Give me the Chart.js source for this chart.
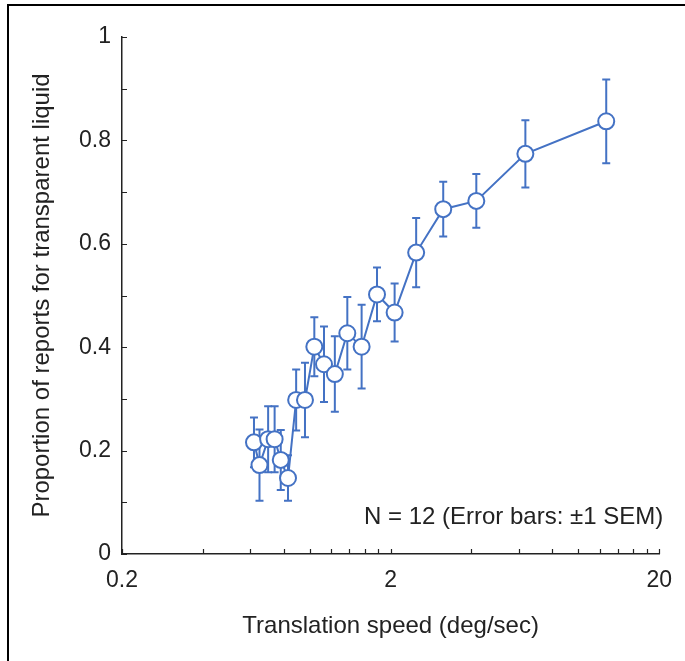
<!DOCTYPE html>
<html>
<head>
<meta charset="utf-8">
<script src="https://cdn.jsdelivr.net/npm/chart.js@4.4.1/dist/chart.umd.min.js"></script>
<style>
  html, body { margin: 0; padding: 0; background: #fff; }
  #wrap { position: relative; width: 685px; height: 661px; }
  #frame { position: absolute; left: 7px; top: 4px; right: 0; bottom: 0;
           border-left: 2px solid #000; border-top: 2px solid #000; pointer-events: none; }
</style>
</head>
<body>
<div id="wrap">
  <canvas id="chart"></canvas>
  <div id="frame"></div>
</div>
<script>
// data
const speeds = [0.62, 0.65, 0.70, 0.74, 0.78, 0.83, 0.89, 0.96, 1.04, 1.13, 1.24, 1.38, 1.56, 1.78, 2.07, 2.49, 3.14, 4.17, 6.35, 12.7];
const proportions = [0.216, 0.172, 0.222, 0.222, 0.182, 0.147, 0.298, 0.298, 0.401, 0.367, 0.348, 0.427, 0.401, 0.502, 0.467, 0.583, 0.667, 0.683, 0.774, 0.837];
const sem = [0.048, 0.069, 0.064, 0.064, 0.058, 0.044, 0.059, 0.072, 0.057, 0.073, 0.073, 0.070, 0.081, 0.052, 0.056, 0.067, 0.053, 0.052, 0.065, 0.081];

const xTicks = [0.2, 0.4, 0.6, 0.8, 1, 1.2, 1.4, 1.6, 1.8, 2, 4, 6, 8, 10, 12, 14, 16, 18, 20];
const xLabels = [0.2, 2, 20];
const yLabels = [0, 0.2, 0.4, 0.6, 0.8, 1];

const blue = '#4472c4';
const fontFamily = '"Liberation Sans", Arial, sans-serif';
const textColor = '#222';

const errorBars = {
  id: 'errorBars',
  beforeDatasetsDraw(chart) {
    const { ctx, scales: { x, y } } = chart;
    ctx.save();
    ctx.strokeStyle = blue;
    ctx.lineWidth = 2;
    speeds.forEach((s, i) => {
      const px = x.getPixelForValue(s);
      const top = y.getPixelForValue(proportions[i] + sem[i]);
      const bot = y.getPixelForValue(proportions[i] - sem[i]);
      ctx.beginPath();
      ctx.moveTo(px, top); ctx.lineTo(px, bot);
      ctx.moveTo(px - 4, top); ctx.lineTo(px + 4, top);
      ctx.moveTo(px - 4, bot); ctx.lineTo(px + 4, bot);
      ctx.stroke();
    });
    ctx.restore();
  }
};

// ticks point into the plot, like the original
const innerTicks = {
  id: 'innerTicks',
  afterDraw(chart) {
    const { ctx, chartArea, scales: { x, y } } = chart;
    ctx.save();
    ctx.strokeStyle = '#222';
    ctx.lineWidth = 1.2;
    ctx.beginPath();
    xTicks.forEach(v => {
      const px = Math.round(x.getPixelForValue(v)) + 0.5;
      ctx.moveTo(px, chartArea.bottom);
      ctx.lineTo(px, chartArea.bottom - 5);
    });
    y.ticks.forEach(t => {
      const py = Math.round(y.getPixelForValue(t.value)) + 0.5;
      ctx.moveTo(chartArea.left, py);
      ctx.lineTo(chartArea.left + 5, py);
    });
    ctx.stroke();

    ctx.fillStyle = textColor;
    ctx.font = '24px ' + fontFamily;
    ctx.textAlign = 'right';
    ctx.textBaseline = 'middle';
    ctx.fillText('N = 12 (Error bars: \u00b11 SEM)', chartArea.right + 4, y.getPixelForValue(0.07));
    ctx.restore();
  }
};

new Chart(document.getElementById('chart'), {
  type: 'scatter',
  data: {
    datasets: [{
      data: speeds.map((s, i) => ({ x: s, y: proportions[i] })),
      showLine: true,
      borderColor: blue,
      borderWidth: 2,
      backgroundColor: '#fff',
      pointBackgroundColor: '#fff',
      pointBorderColor: blue,
      pointBorderWidth: 2,
      pointRadius: 8,
      clip: false
    }]
  },
  options: {
    responsive: true,
    maintainAspectRatio: false,
    animation: false,
    layout: { padding: { top: 37, right: 24, left: 0, bottom: 0 } },
    plugins: { legend: { display: false }, tooltip: { enabled: false } },
    scales: {
      x: {
        type: 'logarithmic',
        min: 0.2,
        max: 20,
        afterBuildTicks(scale) { scale.ticks = xTicks.map(v => ({ value: v })); },
        afterFit(scale) { scale.height = 107; },
        grid: { display: false, drawTicks: false },
        border: { display: true, color: '#222', width: 1.5 },
        ticks: {
          autoSkip: false,
          maxRotation: 0,
          padding: 13,
          color: textColor,
          font: { family: fontFamily, size: 23 },
          callback: v => xLabels.includes(v) ? String(v) : ''
        },
        title: {
          display: true,
          text: 'Translation speed (deg/sec)',
          color: textColor,
          font: { family: fontFamily, size: 24 },
          padding: { top: 0, bottom: 20 }
        }
      },
      y: {
        min: 0,
        max: 1,
        afterFit(scale) { scale.width = 122; },
        grid: { display: false, drawTicks: false },
        border: { display: true, color: '#222', width: 1.5 },
        ticks: {
          stepSize: 0.1,
          padding: 11,
          color: textColor,
          font: { family: fontFamily, size: 23 },
          callback: v => {
            const r = Math.round(v * 10) / 10;
            return yLabels.includes(r) ? String(r) : '';
          }
        },
        title: {
          display: true,
          text: 'Proportion of reports for transparent liquid',
          color: textColor,
          font: { family: fontFamily, size: 24 },
          padding: { top: 28, bottom: 0 }
        }
      }
    }
  },
  plugins: [errorBars, innerTicks]
});
</script>
</body>
</html>
